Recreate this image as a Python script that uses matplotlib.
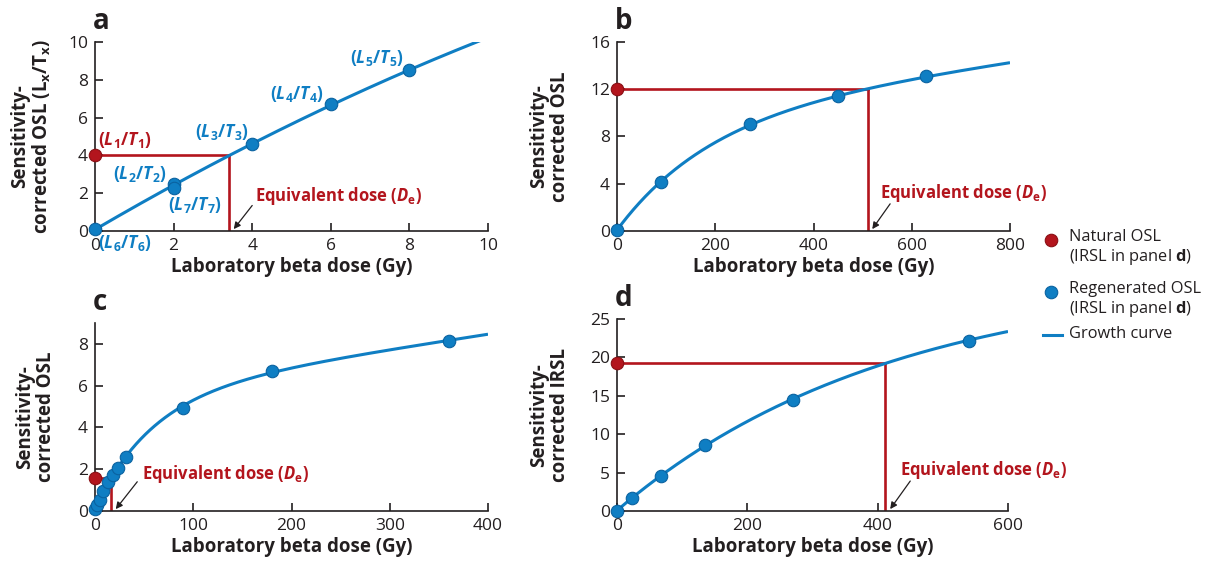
import matplotlib
matplotlib.use("Agg")
import matplotlib.pyplot as plt
from matplotlib.lines import Line2D
import numpy as np

plt.rcParams['font.family'] = ['Open Sans', 'DejaVu Sans']
plt.rcParams['mathtext.fontset'] = 'custom'
plt.rcParams['mathtext.rm'] = 'Open Sans:bold'
plt.rcParams['mathtext.it'] = 'Open Sans:italic:bold'
plt.rcParams['mathtext.bf'] = 'Open Sans:bold'
plt.rcParams['mathtext.bfit'] = 'Open Sans:italic:bold'

BLUE = '#0f7ec3'
BLUE_E = '#0a62a0'
RED = '#b3151d'
RED_E = '#8a0f14'
INK = '#231f20'

# ---- data ----
# panel a
dose_a = [0, 2, 2, 4, 6, 8]
osl_a = [0.1, 2.5, 2.3, 4.6, 6.7, 8.5]
nat_a = 4.0
de_a = 3.41
ratio_labels_a = ['(L5/T5)', '(L4/T4)', '(L3/T3)', '(L2/T2)', '(L7/T7)', '(L6/T6)']
# panel b
dose_b = [0, 90, 270, 450, 630]
osl_b = [0.1, 4.15, 9.05, 11.4, 13.1]
nat_b = 12.0
de_b = 510
# panel c
dose_c = [0, 2.5, 5, 8, 13, 18, 23, 32, 90, 180, 360]
osl_c = [0.1, 0.3, 0.55, 0.95, 1.4, 1.72, 2.05, 2.6, 4.95, 6.7, 8.15]
nat_c = 1.6
de_c = 16.3
# panel d
dose_d = [0, 22.5, 67.5, 135, 270, 540]
irsl_d = [0.05, 1.65, 4.6, 8.6, 14.4, 22.2]
nat_d = 19.3
de_d = 412


def growth_fit(x, y):
    # saturating exponential plus linear term, D0 by grid search
    x = np.asarray(x, float)
    y = np.asarray(y, float)
    best = None
    for d0 in np.geomspace(1, 1e4, 600):
        M = np.column_stack([1 - np.exp(-x / d0), x, np.ones_like(x)])
        coef = np.linalg.lstsq(M, y, rcond=None)[0]
        err = np.sum((M @ coef - y) ** 2)
        if best is None or err < best[0]:
            best = (err, d0, coef)
    _, d0, (A, k, c) = best
    return lambda t: A * (1 - np.exp(-np.asarray(t, float) / d0)) + k * np.asarray(t, float) + c


def panel(rect_px, dose, sig, nat, de, xmax, ymax, xt, yt, letter, ylab, ylab_gap,
          ann_txt, ann_tail):
    ax = fig.add_axes(rect(*rect_px))
    # the natural point crossing the curve at De is a curve point too
    f = growth_fit(list(dose) + [de, de], list(sig) + [nat, nat])
    xx = np.linspace(0, xmax, 600)
    ax.plot(xx, f(xx), color=BLUE, lw=2.2, zorder=3, solid_capstyle='butt')
    ax.plot([0, de], [nat, nat], color=RED, lw=1.9, zorder=2)
    ax.plot([de, de], [nat, 0], color=RED, lw=1.9, zorder=2)
    ax.plot(dose, sig, 'o', ms=9, mfc=BLUE, mec=BLUE_E, mew=0.8, zorder=5, clip_on=False)
    ax.plot([0], [nat], 'o', ms=9, mfc=RED, mec=RED_E, mew=0.8, zorder=6, clip_on=False)
    ax.set_xlim(0, xmax)
    ax.set_ylim(0, ymax)
    ax.set_xticks(xt)
    ax.set_yticks(yt)
    for s in ['top', 'right']:
        ax.spines[s].set_visible(False)
    for s in ['left', 'bottom']:
        ax.spines[s].set_color(INK)
        ax.spines[s].set_linewidth(1.2)
    ax.tick_params(direction='in', length=6, width=1.2, color=INK, labelcolor=INK,
                   labelsize=12.5, pad=5)
    ax.set_xlabel('Laboratory beta dose (Gy)', fontsize=13.5, fontweight='bold',
                  color=INK, labelpad=2)
    ax.set_ylabel(ylab, fontsize=13.5, fontweight='bold', color=INK, linespacing=1.05)
    w_px = rect_px[1] - rect_px[0]
    ax.yaxis.set_label_coords(-ylab_gap / w_px, 0.5)
    ax.text(-0.005, 1.03, letter, transform=ax.transAxes, fontsize=20,
            fontweight='bold', color=INK, ha='left', va='bottom')
    ax.text(ann_txt[0], ann_txt[1], r'Equivalent dose ($\mathit{D}_{\mathrm{e}}$)',
            color=RED, fontsize=12, fontweight='bold', ha='left', va='center')
    ax.annotate('', xy=(de + 0.012 * xmax, 0.01 * ymax), xytext=ann_tail,
                arrowprops=dict(arrowstyle='-|>', color=INK, lw=0.9,
                                mutation_scale=10, shrinkA=0, shrinkB=0))
    return ax


fig = plt.figure(figsize=(12.06, 5.65), dpi=100)
W, H = 1206, 565

def rect(l, r, t, b):
    return [l / W, 1 - b / H, (r - l) / W, (b - t) / H]

ax_a = panel((95, 488, 42, 231), dose_a, osl_a, nat_a, de_a, 10, 10,
             range(0, 11, 2), range(0, 11, 2), 'a',
             'Sensitivity-\ncorrected OSL (L$_{\\mathbf{x}}$/T$_{\\mathbf{x}}$)', 42,
             (4.07, 1.85), (4.0, 1.35))
ax_b = panel((617, 1010, 42, 231), dose_b, osl_b, nat_b, de_b, 800, 16,
             range(0, 801, 200), range(0, 17, 4), 'b',
             'Sensitivity-\ncorrected OSL', 47, (536, 3.2), (556, 2.3))
ax_c = panel((95, 488, 323, 511), dose_c, osl_c, nat_c, de_c, 400, 9,
             range(0, 401, 100), range(0, 9, 2), 'c',
             'Sensitivity-\ncorrected OSL', 39, (47.5, 1.77), (43, 1.4))
ax_d = panel((617, 1008, 319, 511), dose_d, irsl_d, nat_d, de_d, 600, 25,
             range(0, 601, 200), range(0, 26, 5), 'd',
             'Sensitivity-\ncorrected IRSL', 47, (435, 5.35), (450, 3.9))

# ratio labels in panel a
lab_pos = [(7.17, 9.14), (5.13, 7.23), (3.22, 5.25), (1.15, 3.0), (2.54, 1.37), (0.76, -0.62)]
for lab, (lx, ly) in zip(ratio_labels_a, lab_pos):
    n = lab[2]
    s = r'$\mathbf{(}\mathbfit{L}_{\mathbf{%s}}\mathbf{/}\mathbfit{T}_{\mathbf{%s}}\mathbf{)}$' % (n, n)
    ax_a.text(lx, ly, s, color=BLUE, fontsize=12.5, ha='center', va='center', clip_on=False)
ax_a.text(0.76, 4.81, r'$\mathbf{(}\mathbfit{L}_{\mathbf{1}}\mathbf{/}\mathbfit{T}_{\mathbf{1}}\mathbf{)}$',
          color=RED, fontsize=12.5, ha='center', va='center')

# legend, drawn by hand so the markers sit on the first text line
leg_rows = [
    ('Natural OSL\n(IRSL in panel $\\mathbf{d}$)', dict(ls='none', marker='o', ms=9, mfc=RED, mec=RED_E, mew=0.8), 238),
    ('Regenerated OSL\n(IRSL in panel $\\mathbf{d}$)', dict(ls='none', marker='o', ms=9, mfc=BLUE, mec=BLUE_E, mew=0.8), 290),
    ('Growth curve', dict(color=BLUE, lw=2.2), 335),
]
for txt, style, ypx in leg_rows:
    yf = 1 - ypx / H
    if style.get('marker'):
        fig.add_artist(Line2D([1051 / W], [yf - 2 / H], transform=fig.transFigure, **style))
    else:
        fig.add_artist(Line2D([1043 / W, 1062 / W], [yf, yf], transform=fig.transFigure, **style))
    fig.text(1069 / W, yf + 9 / H, txt, fontsize=11.8, color=INK, ha='left', va='top',
             linespacing=1.15)

fig.savefig('out.png', dpi=100)
